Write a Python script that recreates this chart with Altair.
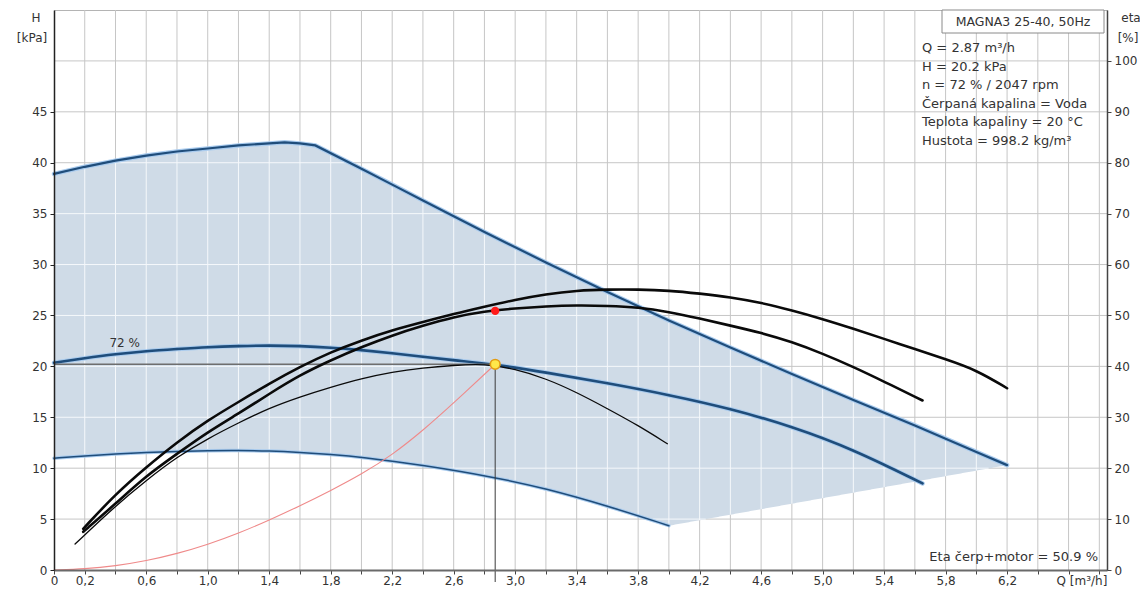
import altair as alt
import numpy as np
import pandas as pd

# ---------------- values ----------------
# envelope: max curve (H, kPa)
q_max = [0, 0.2, 0.4, 0.6, 0.8, 1.0, 1.2, 1.4, 1.5, 1.6, 1.7, 2.0, 2.2, 2.4, 2.6, 2.8,
         3.0, 3.2, 3.4, 3.6, 3.8, 4.0, 4.4, 4.8, 5.2, 5.6, 6.0, 6.2]
h_max = [38.9, 39.6, 40.2, 40.7, 41.1, 41.4, 41.7, 41.9, 42.0, 41.9, 41.7, 39.4, 37.85, 36.3,
         34.75, 33.2, 31.7, 30.2, 28.75, 27.3, 25.9, 24.5, 21.85, 19.25, 16.7, 14.2, 11.6, 10.3]
# 72 % speed curve
q_72 = [0, 0.2, 0.4, 0.6, 0.8, 1.0, 1.2, 1.4, 1.6, 1.8, 2.0, 2.2, 2.4, 2.6, 2.87,
        3.2, 3.6, 4.0, 4.4, 4.8, 5.2, 5.65]
h_72 = [20.35, 20.8, 21.2, 21.5, 21.7, 21.9, 22.0, 22.05, 22.0, 21.85, 21.6, 21.3, 20.95,
        20.6, 20.2, 19.4, 18.35, 17.2, 15.85, 14.1, 11.85, 8.5]
# min curve
q_min = [0, 0.2, 0.4, 0.6, 0.8, 1.0, 1.2, 1.4, 1.6, 1.8, 2.0, 2.4, 2.87, 3.2, 3.6, 4.0]
h_min = [10.98, 11.2, 11.4, 11.55, 11.65, 11.73, 11.75, 11.7, 11.55, 11.35, 11.1, 10.3,
         9.1, 8.0, 6.3, 4.35]
# lower right edge of the envelope
q_edge = [4.0, 6.2]
h_edge = [4.35, 10.3]
# system curve
q_sys = [0, 0.2, 0.4, 0.6, 0.8, 1.0, 1.2, 1.4, 1.6, 1.8, 2.0, 2.2, 2.4, 2.6, 2.87]
h_sys = [0, 0.1, 0.4, 0.9, 1.6, 2.5, 3.6, 4.9, 6.3, 7.8, 9.4, 11.3, 13.7, 16.4, 20.2]

# efficiency curves (eta, %)
q_eA = [0.19, 0.4, 0.6, 0.8, 1.0, 1.2, 1.4, 1.6, 1.8, 2.0, 2.2, 2.4, 2.6, 2.8, 3.0, 3.2,
        3.4, 3.6, 3.8, 4.0, 4.2, 4.4, 4.6, 4.8, 5.0, 5.2, 5.4, 5.6, 5.8, 6.0, 6.2]
e_A = [8.1, 14.9, 20.2, 25.1, 29.4, 33.0, 36.6, 39.9, 42.8, 45.1, 47.1, 48.7, 50.3, 51.7,
       53.1, 54.2, 54.9, 55.1, 55.1, 54.9, 54.3, 53.6, 52.5, 51.0, 49.3, 47.4, 45.4, 43.4,
       41.4, 39.3, 35.7]
q_eB = [0.19, 0.4, 0.6, 0.8, 1.0, 1.2, 1.4, 1.6, 1.8, 2.0, 2.2, 2.4, 2.6, 2.8, 3.0, 3.2,
        3.4, 3.6, 3.8, 4.0, 4.2, 4.4, 4.6, 4.8, 5.0, 5.2, 5.4, 5.65]
e_B = [7.5, 13.0, 18.5, 22.8, 27.1, 30.7, 34.6, 38.3, 41.2, 43.8, 46.1, 48.0, 49.7, 50.8,
       51.4, 51.8, 52.0, 51.9, 51.6, 50.7, 49.4, 48.0, 46.6, 44.8, 42.5, 39.9, 37.0, 33.3]
q_eC = [0.137, 0.4, 0.6, 0.8, 1.0, 1.2, 1.4, 1.6, 1.8, 2.0, 2.2, 2.4, 2.6, 2.8, 3.0, 3.2,
        3.4, 3.6, 3.8, 3.99]
e_C = [5.1, 12.6, 17.6, 22.2, 25.8, 28.9, 31.8, 34.0, 35.9, 37.6, 38.9, 39.7, 40.2, 40.5,
       39.5, 37.6, 34.9, 31.7, 28.4, 24.8]

# operating point
q_op = 2.87
h_op = 20.2
eta_op = 50.9
speed_pct = 72
rpm = 2047

pump_name = "MAGNA3 25-40, 50Hz"
info_lines = [f"Q = {q_op} m³/h", f"H = {h_op} kPa", f"n = {speed_pct} % / {rpm} rpm",
              "Čerpaná kapalina = Voda", "Teplota kapaliny = 20 °C", "Hustota = 998.2 kg/m³"]
eta_text = f"Eta čerp+motor = {eta_op} %"
speed_label = f"{speed_pct} %"

x_ticks = [round(0.2 * i, 1) for i in range(35)]
h_ticks = list(range(0, 50, 5))
h_grid = list(range(5, 55, 5))
eta_ticks = list(range(0, 110, 10))

# ---------------- derived geometry for the envelope ----------------
q_low = q_min + q_edge[1:]
h_low = h_min + h_edge[1:]
qd = np.round(np.linspace(0, 6.2, 621), 4)
up = np.interp(qd, q_max, h_max)
lo = np.interp(qd, q_low, h_low)
df_area = pd.DataFrame({"q": qd, "up": up, "lo": lo})

vx = [g for g in x_ticks if 0 < g < 6.2]
df_wv = pd.DataFrame({"q": vx, "y1": np.interp(vx, q_low, h_low), "y2": np.interp(vx, q_max, h_max)})
segs = []
for h in h_grid:
    m = (lo < h) & (up > h)
    start = None
    for i, v in enumerate(m):
        if v and start is None:
            start = i
        if start is not None and (not v or i == len(m) - 1):
            end = i if v else i - 1
            segs.append({"q1": qd[start], "q2": qd[end], "h": h})
            start = None
df_wh = pd.DataFrame(segs)

# ---------------- chart ----------------
W, H = 1053, 560
FONT = "DejaVu Sans"
xs = alt.Scale(domain=[0, 6.85], nice=False, zero=False)
hs = alt.Scale(domain=[0, 55], nice=False)
es = alt.Scale(domain=[0, 110], nice=False)

lbl = ("datum.value == 0 ? '0' : (datum.value < 6.3 && abs((datum.value - 0.2) / 0.4 - round((datum.value - 0.2) / 0.4)) < 0.01"
       " ? replace(format(datum.value, '.1f'), '.', ',') : '')")
x_axis = alt.Axis(values=x_ticks, labelExpr=lbl, grid=False, domainColor="#6a6a6a", domainWidth=2,
                  tickColor="#444", tickSize=4, labelPadding=1, labelOverlap=False, labelFlush=False,
                  title=None, zindex=1)
h_axis = alt.Axis(values=h_ticks, grid=False, orient="left", domainColor="#222", domainWidth=1.5,
                  tickColor="#222", tickSize=4, labelPadding=3, title=None, zindex=1)
e_axis = alt.Axis(values=eta_ticks, grid=False, orient="right", domainColor="#444", domainWidth=1.5,
                  tickColor="#444", tickSize=4, labelPadding=3, title=None, zindex=1)


def X(f):
    return alt.X(f, type="quantitative", scale=xs, axis=x_axis)


def YH(f):
    return alt.Y(f, type="quantitative", scale=hs, axis=h_axis)


def YE(f):
    return alt.Y(f, type="quantitative", scale=es, axis=e_axis)


GRID = "#c6c6c6"
NAVY = "#1f4d7b"
HALO = "#a9cbee"

grid_v = alt.Chart(pd.DataFrame({"q": x_ticks[1:]})).mark_rule(color=GRID, strokeWidth=1).encode(x=X("q"))
grid_h = alt.Chart(pd.DataFrame({"h": h_grid})).mark_rule(color=GRID, strokeWidth=1).encode(y=YH("h"))
area = alt.Chart(df_area).mark_area(color="#cfdbe7", opacity=1).encode(x=X("q"), y=YH("up"), y2="lo")
white_v = alt.Chart(df_wv).mark_rule(color="#f5f8fb", strokeWidth=1).encode(x=X("q"), y=YH("y1"), y2="y2")
white_h = alt.Chart(df_wh).mark_rule(color="#f5f8fb", strokeWidth=1).encode(x=X("q1"), x2="q2", y=YH("h"))


def hline(q, h, color, width, interp="basis"):
    return alt.Chart(pd.DataFrame({"q": q, "h": h})).mark_line(
        color=color, strokeWidth=width, interpolate=interp, strokeCap="round").encode(x=X("q"), y=YH("h"))


def eline(q, e, width):
    return alt.Chart(pd.DataFrame({"q": q, "e": e})).mark_line(
        color="#0a0a0a", strokeWidth=width, interpolate="basis", strokeCap="round").encode(x=X("q"), y=YE("e"))


df_op = pd.DataFrame({"q0": [0], "q": [q_op], "h": [h_op], "h0": [0], "eta": [eta_op]})
op_h = alt.Chart(df_op).mark_rule(color="#6e6e6e", strokeWidth=1.5).encode(x=X("q0"), x2="q", y=YH("h"))
op_v = alt.Chart(df_op).mark_rule(color="#3a3a3a", strokeWidth=1).encode(
    x=X("q"), y=YH("h"), y2=alt.value(H + 12))
lab72 = alt.Chart(pd.DataFrame({"q": [0.46], "h": [22.3], "t": [speed_label]})).mark_text(
    font=FONT, fontSize=12, color="#333", baseline="middle", align="center").encode(x=X("q"), y=YH("h"), text="t")

h_group = alt.layer(
    grid_v, grid_h, area, white_v, white_h,
    hline(q_max, h_max, HALO, 4.5, "linear"), hline(q_max, h_max, NAVY, 2.2, "linear"),
    hline(q_min, h_min, HALO, 3.5), hline(q_min, h_min, NAVY, 1.5),
    hline(q_72, h_72, HALO, 4.5), hline(q_72, h_72, NAVY, 2.6),
    hline(q_sys, h_sys, "#ef8a8a", 1.1),
    op_h, op_v, lab72,
)

red_dot = alt.Chart(df_op).mark_point(filled=True, color="#ff1a1a", size=70, opacity=1).encode(
    x=X("q"), y=YE("eta"))
e_group = alt.layer(eline(q_eA, e_A, 2.6), eline(q_eB, e_B, 2.6), eline(q_eC, e_C, 1.3), red_dot)

yellow = alt.Chart(df_op).mark_point(filled=True, fill="#ffe74a", stroke="#e39b12", strokeWidth=1.6,
                                     size=95, opacity=1).encode(
    x=X("q"), y=alt.Y("h", type="quantitative", scale=hs, axis=None))


def txt(t, x, y, align="left", size=13):
    return alt.Chart(pd.DataFrame({"t": [t]})).mark_text(
        font=FONT, fontSize=size, color="#333", align=align, baseline="middle").encode(
        x=alt.value(x), y=alt.value(y), text="t")


box = alt.Chart(pd.DataFrame({"t": [pump_name]})).mark_rect(
    fill="white", stroke="#8a8a8a", strokeWidth=1).encode(
    x=alt.value(888), x2=alt.value(1050), y=alt.value(0), y2=alt.value(23))

annots = [box, txt(pump_name, 969, 11.5, "center", 12.5)]
for i, line in enumerate(info_lines):
    annots.append(txt(line, 868, 38 + i * 18.6))
annots += [
    txt(eta_text, 1044, 547, "right"),
    txt("H", -18, 8, "center", 12), txt("[kPa]", -22, 28, "center", 12),
    txt("eta", 1077, 8, "center", 12), txt("[%]", 1074, 28, "center", 12),
    txt("Q [m³/h]", 1028, 571, "center", 12),
]

chart = alt.layer(h_group, e_group, yellow, *annots).resolve_scale(y="independent").properties(
    width=W, height=H,
    autosize=alt.AutoSizeParams(type="none"),
    padding={"left": 46, "top": 2, "right": 33, "bottom": 18},
).configure_view(stroke="#b4b4b4", strokeWidth=1).configure_axis(
    labelFont=FONT, labelFontSize=12, labelColor="#333")

chart.save("out.html", embed_options={"renderer": "svg", "actions": False})
